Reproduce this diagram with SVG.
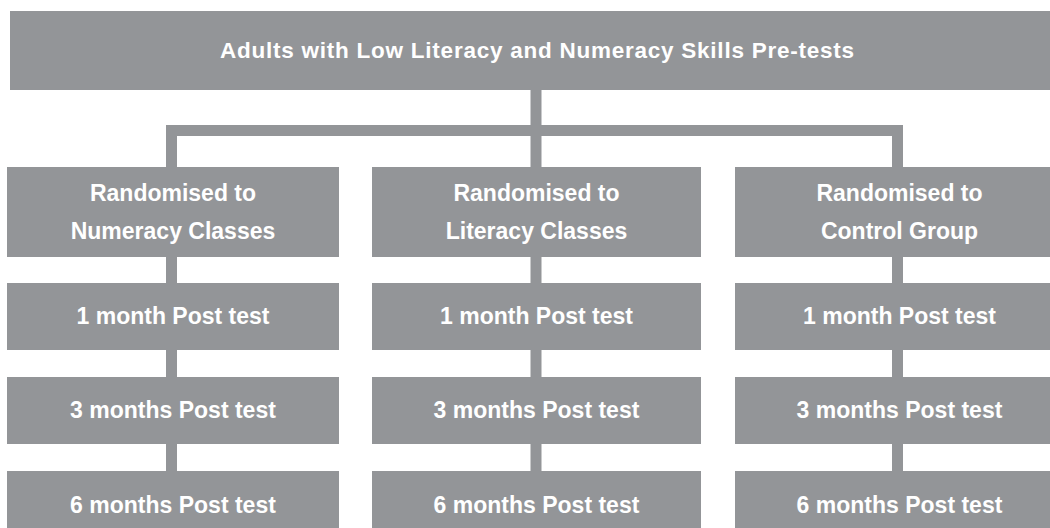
<svg xmlns="http://www.w3.org/2000/svg" width="1050" height="528" viewBox="0 0 1050 528">
<style>
.box{fill:#939598}
.t{fill:#ffffff;font-family:"Liberation Sans",Arial,sans-serif;font-weight:bold;font-size:23px;text-anchor:middle}
.tt{font-size:22.5px}
.c{stroke:#939598;stroke-width:11;fill:none}
</style>
<rect width="1050" height="528" fill="#ffffff"/>
<g id="connectors">
<line class="c" x1="536" y1="90" x2="536" y2="167"/>
<polyline class="c" points="171.5,167 171.5,130.5 897.5,130.5 897.5,167"/>
<line class="c" x1="171.5" y1="257" x2="171.5" y2="471"/>
<line class="c" x1="536" y1="257" x2="536" y2="471"/>
<line class="c" x1="897.5" y1="257" x2="897.5" y2="471"/>
</g>
<g id="top"><rect class="box" x="10" y="11" width="1054" height="79"/><text class="t tt" x="537" y="58" textLength="634" lengthAdjust="spacing">Adults with Low Literacy and Numeracy Skills Pre-tests</text></g>
<g id="num"><rect class="box" x="7" y="167" width="332" height="90"/><text class="t" x="173" y="201">Randomised to</text><text class="t" x="173" y="238.5">Numeracy Classes</text></g>
<g id="lit"><rect class="box" x="372" y="167" width="329" height="90"/><text class="t" x="536.5" y="201">Randomised to</text><text class="t" x="536.5" y="238.5">Literacy Classes</text></g>
<g id="ctl"><rect class="box" x="735" y="167" width="329" height="90"/><text class="t" x="899.5" y="201">Randomised to</text><text class="t" x="899.5" y="238.5">Control Group</text></g>
<g id="num1"><rect class="box" x="7" y="283" width="332" height="67"/><text class="t" x="173" y="324">1 month Post test</text></g>
<g id="lit1"><rect class="box" x="372" y="283" width="329" height="67"/><text class="t" x="536.5" y="324">1 month Post test</text></g>
<g id="ctl1"><rect class="box" x="735" y="283" width="329" height="67"/><text class="t" x="899.5" y="324">1 month Post test</text></g>
<g id="num3"><rect class="box" x="7" y="377" width="332" height="67"/><text class="t" x="173" y="418">3 months Post test</text></g>
<g id="lit3"><rect class="box" x="372" y="377" width="329" height="67"/><text class="t" x="536.5" y="418">3 months Post test</text></g>
<g id="ctl3"><rect class="box" x="735" y="377" width="329" height="67"/><text class="t" x="899.5" y="418">3 months Post test</text></g>
<g id="num6"><rect class="box" x="7" y="471" width="332" height="67"/><text class="t" x="173" y="512.5">6 months Post test</text></g>
<g id="lit6"><rect class="box" x="372" y="471" width="329" height="67"/><text class="t" x="536.5" y="512.5">6 months Post test</text></g>
<g id="ctl6"><rect class="box" x="735" y="471" width="329" height="67"/><text class="t" x="899.5" y="512.5">6 months Post test</text></g>
</svg>
